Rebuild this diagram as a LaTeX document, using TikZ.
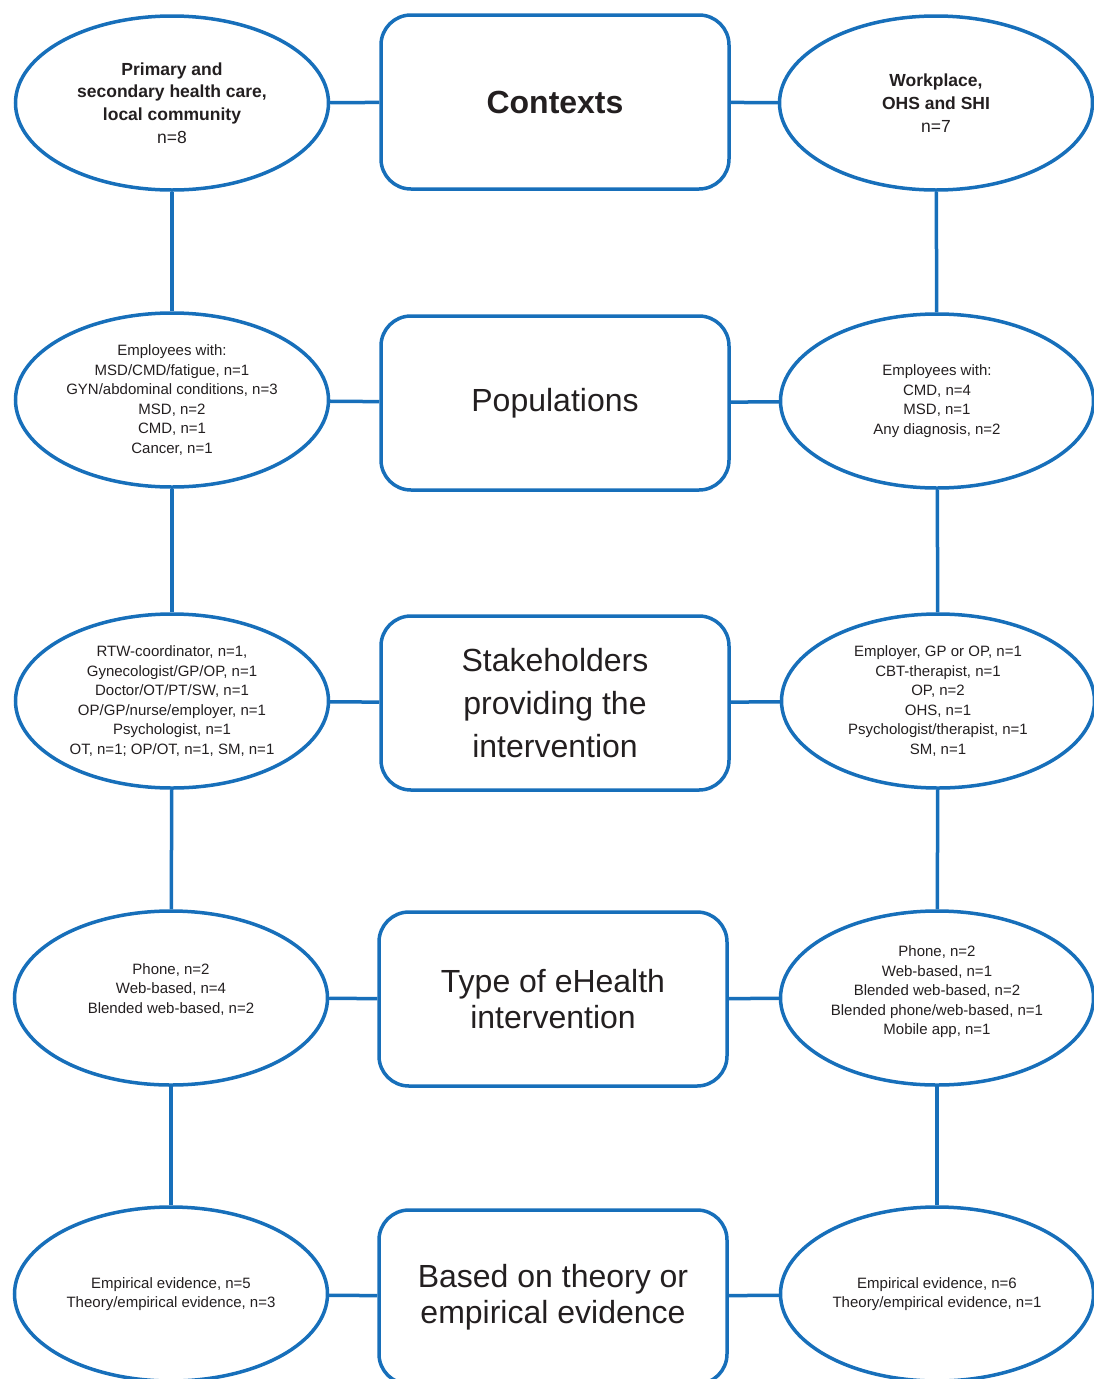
\documentclass[tikz,border=0pt]{standalone}
\usepackage{fontspec}
\setmainfont{Liberation Sans}
\usetikzlibrary{shapes.geometric}

\definecolor{ehblue}{RGB}{23,111,186}
\definecolor{ehtext}{RGB}{35,31,32}

\tikzset{
  oval/.style={ellipse,draw=ehblue,line width=3.5pt,minimum width=313pt,
    minimum height=174pt,inner sep=0pt,align=center,text=ehtext,
    font=\fontsize{15}{19.6}\selectfont},
  ovalhead/.style={oval,font=\fontsize{17.5}{22.7}\selectfont},
  topic/.style={rectangle,rounded corners=30pt,draw=ehblue,line width=3.5pt,
    minimum width=348pt,minimum height=174pt,inner sep=0pt,align=center,
    text=ehtext,font=\fontsize{32}{43}\selectfont},
}

\begin{document}
\begin{tikzpicture}[x=1pt,y=-1pt]

        \useasboundingbox (0,0) rectangle (1094,1379);
        \clip (0,0) rectangle (1094,1379);

        % left column
        \node[ovalhead] (l1) at (172,103)
          {\textbf{Primary and}\\\textbf{secondary health care,}\\\textbf{local community}\\n=8};
        \node[oval] (l2) at (172,400)
          {Employees with:\\MSD/CMD/fatigue, n=1\\GYN/abdominal conditions, n=3\\MSD, n=2\\CMD, n=1\\Cancer, n=1};
        \node[oval] (l3) at (172,701)
          {RTW-coordinator, n=1,\\Gynecologist/GP/OP, n=1\\Doctor/OT/PT/SW, n=1\\OP/GP/nurse/employer, n=1\\Psychologist, n=1\\OT, n=1; OP/OT, n=1, SM, n=1};
        \node[oval] (l4) at (171,998)
          {Phone, n=2\\Web-based, n=4\\Blended web-based, n=2\\\mbox{}};
        \node[oval] (l5) at (171,1294)
          {Empirical evidence, n=5\\Theory/empirical evidence, n=3};

        % middle column
        \node[topic] (c1) at (555,102) {\textbf{Contexts}};
        \node[topic] (c2) at (555,403) {Populations};
        \node[topic] (c3) at (555,703) {Stakeholders\\providing the\\intervention};
        \node[topic,font=\fontsize{32}{36}\selectfont] (c4) at (553,999)
          {Type of eHealth\\intervention};
        \node[topic,font=\fontsize{32}{36}\selectfont] (c5) at (553,1297)
          {Based on theory or\\empirical evidence};

        % right column
        \node[ovalhead] (r1) at (936,103)
          {\textbf{Workplace,}\\\textbf{OHS and SHI}\\n=7};
        \node[oval] (r2) at (937,401)
          {Employees with:\\CMD, n=4\\MSD, n=1\\Any diagnosis, n=2};
        \node[oval] (r3) at (938,701)
          {Employer, GP or OP, n=1\\CBT-therapist, n=1\\OP, n=2\\OHS, n=1\\Psychologist/therapist, n=1\\SM, n=1};
        \node[oval] (r4) at (937,998)
          {Phone, n=2\\Web-based, n=1\\Blended web-based, n=2\\Blended phone/web-based, n=1\\Mobile app, n=1\\[-4pt]\mbox{}};
        \node[oval] (r5) at (937,1294)
          {Empirical evidence, n=6\\Theory/empirical evidence, n=1};

        \begin{scope}[every edge/.style={draw=ehblue,line width=3.5pt}]
          \path (l1) edge (c1);
          \path (c1) edge (r1);
          \path (l2) edge (c2);
          \path (c2) edge (r2);
          \path (l3) edge (c3);
          \path (c3) edge (r3);
          \path (l4) edge (c4);
          \path (c4) edge (r4);
          \path (l5) edge (c5);
          \path (c5) edge (r5);

          \path (l1) edge (l2);
          \path (l2) edge (l3);
          \path (l3) edge (l4);
          \path (l4) edge (l5);
          \path (r1) edge (r2);
          \path (r2) edge (r3);
          \path (r3) edge (r4);
          \path (r4) edge (r5);
        \end{scope}

      \end{tikzpicture}
\end{document}
